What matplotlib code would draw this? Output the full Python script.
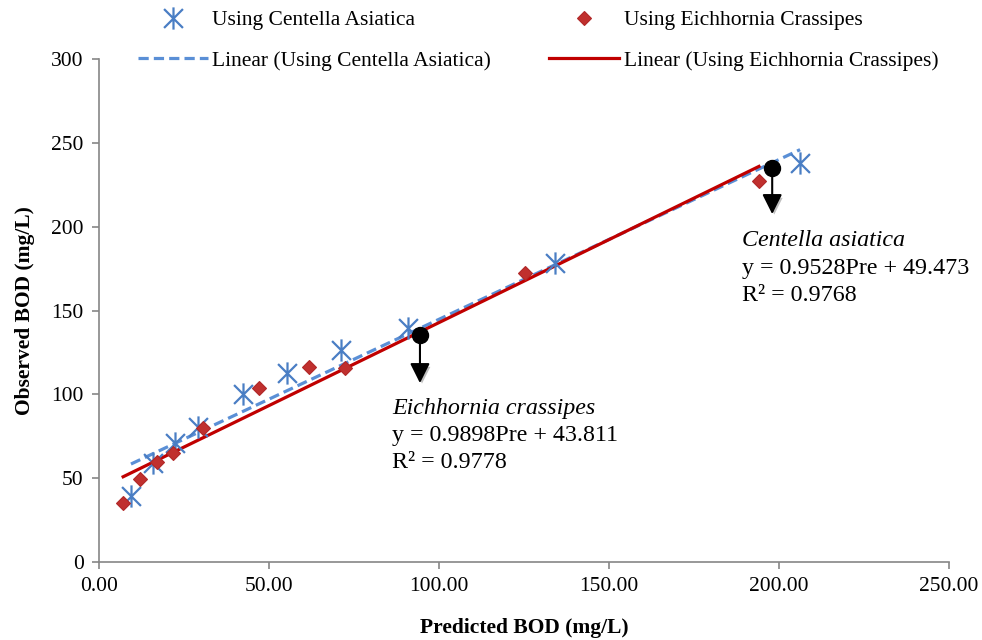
import numpy as np
import matplotlib
matplotlib.use("Agg")
import matplotlib.pyplot as plt
from matplotlib.path import Path
import matplotlib.patheffects as pe

# ---------------- data ----------------
centella_pred = [9.4, 15.9, 22.4, 29.1, 42.4, 55.3, 71.2, 90.9, 134.1, 206.2]
centella_obs = [39.4, 59.0, 71.0, 80.5, 100.2, 112.7, 126.4, 139.5, 178.3, 237.9]

eich_pred = [7.1, 12.1, 17.1, 21.8, 30.6, 47.1, 61.8, 72.4, 125.3, 194.1]
eich_obs = [35.2, 49.5, 59.6, 65.0, 79.9, 103.8, 116.3, 115.7, 172.3, 227.2]

# trend line coefficients (as printed on chart)
centella_slope, centella_intercept, centella_r2 = 0.9528, 49.473, 0.9768
eich_slope, eich_intercept, eich_r2 = 0.9898, 43.811, 0.9778

# annotation callout points (circle position, arrow tip)
callout_x = [94.4, 198.0]
callout_y = [135.4, 235.0]
callout_tip_y = [106.7, 207.5]

x_ticks = [0, 50, 100, 150, 200, 250]
y_ticks = [0, 50, 100, 150, 200, 250, 300]

# ---------------- style ----------------
plt.rcParams['font.family'] = ['Liberation Serif', 'DejaVu Serif']
BLUE = '#4A7EC4'
BLUE_LINE = '#5A8FD6'
RED = '#C0302E'
RED_LINE = '#C00000'
GRAY = '#868686'
FS = 15.5
FS_ANN = 17.3

fig = plt.figure(figsize=(9.82, 6.40), dpi=100)
ax = fig.add_axes([99 / 982, 1 - 562 / 640, (949 - 99) / 982, (562 - 59) / 640])

star = Path([(0, -1), (0, 1), (-0.85, -0.85), (0.85, 0.85), (-0.85, 0.85), (0.85, -0.85)],
            [Path.MOVETO, Path.LINETO, Path.MOVETO, Path.LINETO, Path.MOVETO, Path.LINETO])

# trend lines
cx = np.array([min(centella_pred), max(centella_pred)])
ex = np.array([min(eich_pred), max(eich_pred)])
l_c, = ax.plot(cx, centella_slope * cx + centella_intercept, color=BLUE_LINE, lw=2.3,
               dashes=(3.2, 1.6), zorder=3, label='Linear (Using Centella Asiatica)')
l_e, = ax.plot(ex, eich_slope * ex + eich_intercept, color=RED_LINE, lw=2.3,
               zorder=3, label='Linear (Using Eichhornia Crassipes)')

# scatter
s_c, = ax.plot(centella_pred, centella_obs, linestyle='none', marker=star, markersize=16,
               markeredgewidth=1.6, markeredgecolor=BLUE, markerfacecolor='none',
               zorder=4, label='Using Centella Asiatica')
s_e, = ax.plot(eich_pred, eich_obs, linestyle='none', marker='D', markersize=7.5,
               markerfacecolor=RED, markeredgecolor='#B02828', markeredgewidth=0.8,
               zorder=4, label='Using Eichhornia Crassipes')

# callouts
shadow = [pe.SimplePatchShadow(offset=(1.5, -2), alpha=0.25), pe.Normal()]
for x, y, ty in zip(callout_x, callout_y, callout_tip_y):
    ax.annotate('', xy=(x, ty), xytext=(x, y),
                arrowprops=dict(arrowstyle='-|>,head_width=0.4,head_length=0.8',
                                mutation_scale=15,
                                color='black', lw=1.5, shrinkA=0, shrinkB=0,
                                path_effects=shadow),
                zorder=5)
    ax.plot([x], [y], 'o', color='black', markersize=11.5, zorder=6)

# equation text
ax.text(86.2, 91.8, 'Eichhornia crassipes', fontsize=FS_ANN, style='italic', va='center', ha='left')
ax.text(86.2, 75.7, f'y = {eich_slope}Pre + {eich_intercept}', fontsize=FS_ANN, va='center', ha='left')
ax.text(86.2, 59.6, f'R² = {eich_r2}', fontsize=FS_ANN, va='center', ha='left')
ax.text(189.1, 192.0, 'Centella asiatica', fontsize=FS_ANN, style='italic', va='center', ha='left')
ax.text(189.1, 175.3, f'y = {centella_slope}Pre + {centella_intercept}', fontsize=FS_ANN, va='center', ha='left')
ax.text(189.1, 159.2, f'R² = {centella_r2}', fontsize=FS_ANN, va='center', ha='left')

# axes
ax.set_xlim(0, 250)
ax.set_ylim(0, 300)
ax.set_xticks(x_ticks)
ax.set_xticklabels([f'{v:.2f}' for v in x_ticks])
ax.set_yticks(y_ticks)
ax.set_yticklabels([str(v) for v in y_ticks])
for s in ['top', 'right']:
    ax.spines[s].set_visible(False)
for s in ['left', 'bottom']:
    ax.spines[s].set_color(GRAY)
    ax.spines[s].set_linewidth(1.2)
ax.tick_params(axis='both', direction='out', length=5, width=1.2, color=GRAY,
               labelsize=FS, pad=6)
ax.set_xlabel('Predicted BOD (mg/L)', fontsize=FS, fontweight='bold', labelpad=16)
ax.set_ylabel('Observed BOD (mg/L)', fontsize=FS, fontweight='bold', labelpad=12)

fig.legend(handles=[s_c, l_c, s_e, l_e], ncol=2, loc='upper left',
           bbox_to_anchor=(138 / 982, 1 - 10 / 640), frameon=False, fontsize=FS,
           handlelength=3.25, handletextpad=0.2, columnspacing=2.7,
           labelspacing=0.95, borderpad=0, borderaxespad=0)

fig.savefig('out.png', dpi=100)
